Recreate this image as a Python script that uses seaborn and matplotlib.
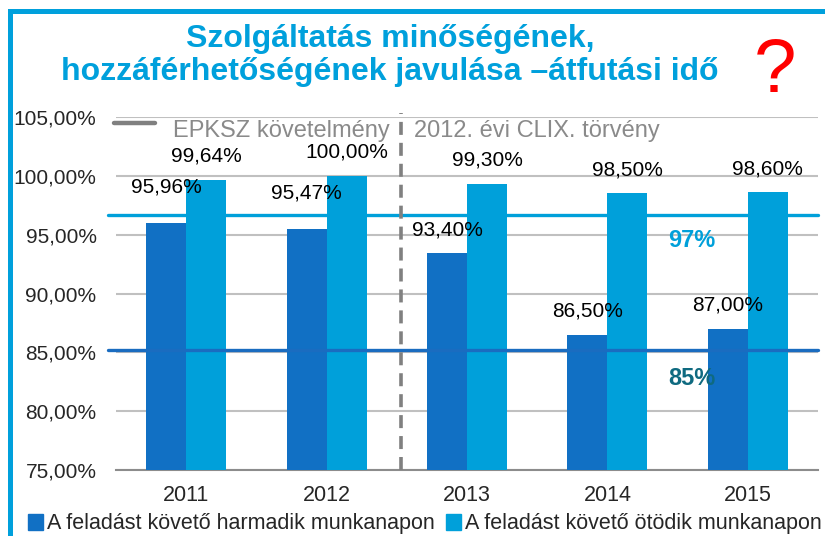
import pandas as pd
import numpy as np
import matplotlib.pyplot as plt
import seaborn as sns
from matplotlib.lines import Line2D
from matplotlib.patches import Rectangle, Patch
from matplotlib.ticker import FuncFormatter, FixedLocator

years = ['2011', '2012', '2013', '2014', '2015']
series_names = ['A feladást követő harmadik munkanapon',
                'A feladást követő ötödik munkanapon']
third_day = [95.96, 95.47, 93.40, 86.50, 87.00]
fifth_day = [99.64, 100.00, 99.30, 98.50, 98.60]
target_levels = [96.7, 85.2]
target_labels = ['97%', '85%']
title_lines = ['Szolgáltatás minőségének,',
               'hozzáférhetőségének javulása –átfutási idő']
law_labels = ['EPKSZ követelmény', '2012. évi CLIX. törvény']

dark = '#1170C4'
light = '#00A0DA'
frame_blue = '#00A0DC'
gray_txt = '#8A8A8A'

df = pd.DataFrame({
    'ev': years * 2,
    'sor': [series_names[0]] * 5 + [series_names[1]] * 5,
    'ertek': third_day + fifth_day,
})

sns.set_style('white')
plt.rcParams['font.family'] = ['Liberation Sans', 'DejaVu Sans']

W, H = 825, 536
fig = plt.figure(figsize=(W / 100, H / 100), dpi=100)
ax = fig.add_axes([116 / W, 1 - 470 / H, 702 / W, 353 / H])

sns.barplot(data=df, x='ev', y='ertek', hue='sor', palette=[dark, light],
            width=0.57, gap=0, linewidth=0, saturation=1, legend=False,
            ax=ax, zorder=3)

ax.set_ylim(75, 105)
ax.set_xlim(-0.5, 4.5)
ax.yaxis.set_major_locator(FixedLocator(np.arange(75, 106, 5)))
ax.yaxis.set_major_formatter(FuncFormatter(lambda v, p: f'{v:.2f}%'.replace('.', ',')))
ax.grid(axis='y', color='#C0C0C0', lw=1.5, zorder=0)
ax.set_xlabel('')
ax.set_ylabel('')
for s in ['top', 'right', 'left']:
    ax.spines[s].set_visible(False)
ax.spines['bottom'].set_color('#8C8C8C')
ax.spines['bottom'].set_linewidth(1.5)
ax.tick_params(axis='y', length=0, pad=14, labelsize=15)
ax.tick_params(axis='x', which='major', length=0, pad=11, labelsize=15.5)
ax.set_xticks(np.arange(-0.5, 5, 1), minor=True)
ax.tick_params(axis='x', which='minor', length=6, width=1.5, color='#8C8C8C')

# value labels
lift = [[26, 26, 17, 17, 17], [17, 17, 17, 17, 17]]
for k, cont in enumerate(ax.containers):
    for j, bar in enumerate(cont):
        v = bar.get_height()
        ax.annotate(f'{v:.2f}%'.replace('.', ','),
                    (bar.get_x() + bar.get_width() / 2, v),
                    xytext=(0, lift[k][j]), textcoords='offset points',
                    ha='center', va='center', fontsize=15, color='black',
                    zorder=5)

# target lines
ax.axhline(target_levels[0], xmin=-0.012, xmax=1, color=light, lw=2.4,
           clip_on=False, zorder=4)
ax.axhline(target_levels[1], xmin=-0.012, xmax=1, color='#1A6CC0', lw=2.4,
           clip_on=False, zorder=4)
ax.text(3.6, 94.5, target_labels[0], color=light, fontsize=17,
        fontweight='bold', ha='center', va='center', zorder=5)
ax.text(3.6, 82.8, target_labels[1], color='#0F6A80', fontsize=17,
        fontweight='bold', ha='center', va='center', zorder=5)

# dashed separator
ax.axvline(1.53, ymin=0, ymax=1.01, color='#808080', lw=2.6,
           dashes=(3.6, 2.2), clip_on=False, zorder=4)

# legend-like labels at top
fig.add_artist(Line2D([114 / W, 155 / W], [1 - 123 / H] * 2,
                      color='#808080', lw=3.2))
fig.text(173 / W, 1 - 131 / H, law_labels[0], fontsize=17, color=gray_txt,
         ha='left', va='center')
fig.text(414 / W, 1 - 131 / H, law_labels[1], fontsize=17, color=gray_txt,
         ha='left', va='center')

# title
for txt, yb in zip(title_lines, [47, 80]):
    fig.text(390 / W, 1 - yb / H, txt, fontsize=23, fontweight='bold',
             color=frame_blue, ha='center', va='baseline',
             family=['Liberation Sans Narrow', 'Liberation Sans'],
             stretch='condensed')
fig.text(775 / W, 1 - 92 / H, '?', fontsize=55, color='#FF0000',
         ha='center', va='baseline')

# frame
fig.add_artist(Rectangle((9.5 / W, -0.1), 1.2, 1.1 - 11 / H,
                         transform=fig.transFigure, fill=False,
                         edgecolor=frame_blue, lw=3.6))

handles = [Patch(color=dark), Patch(color=light)]
fig.legend(handles, series_names, loc='center', ncol=2, frameon=False,
           bbox_to_anchor=(425 / W, 1 - 524 / H), fontsize=15.5,
           handlelength=0.7, handleheight=0.7, handletextpad=0.2,
           columnspacing=0.5, borderaxespad=0)

fig.savefig('out.png', dpi=100)
